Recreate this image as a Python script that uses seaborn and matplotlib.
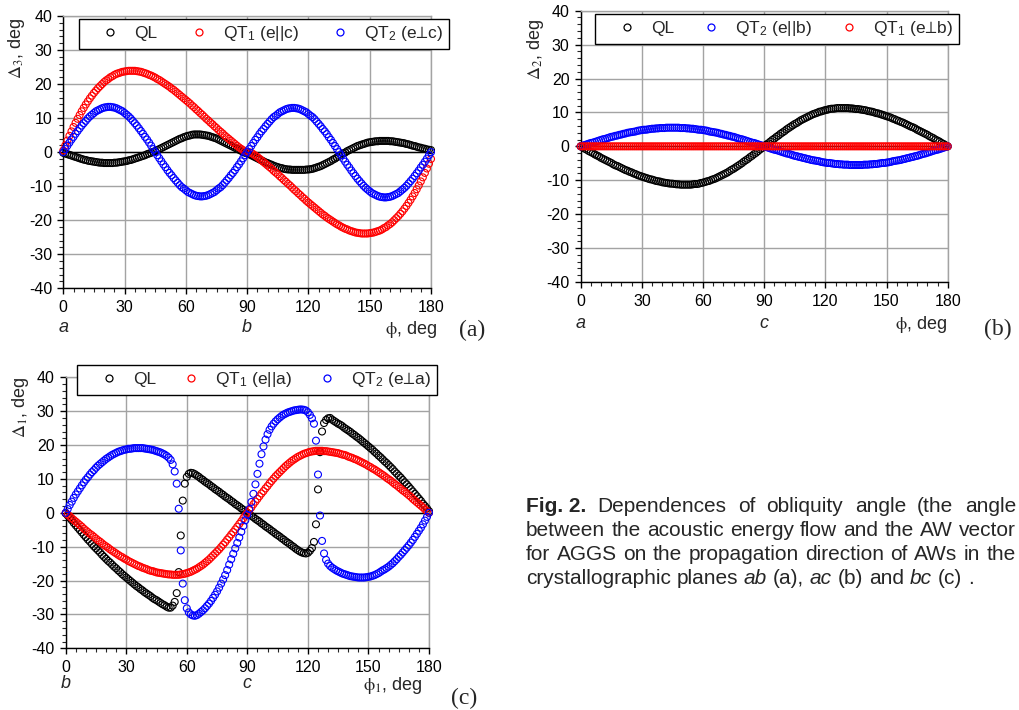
import matplotlib
matplotlib.use("Agg")
import matplotlib.pyplot as plt
import matplotlib.transforms as mtransforms
from matplotlib.lines import Line2D
from matplotlib.ticker import MultipleLocator
import pandas as pd
import seaborn as sns

# propagation angle, deg (1 degree step)
phi = list(range(0, 181))

# (a) plane ab: obliquity angle Delta_3, deg
ab_ql = [
    -0.2, -0.4, -0.6, -0.8, -1.0, -1.2, -1.4, -1.6, -1.8, -2.0,
    -2.2, -2.3, -2.5, -2.6, -2.7, -2.8, -2.9, -3.0, -3.1, -3.1,
    -3.2, -3.2, -3.2, -3.2, -3.2, -3.1, -3.1, -3.0, -2.9, -2.8,
    -2.7, -2.6, -2.4, -2.3, -2.1, -1.9, -1.7, -1.5, -1.3, -1.1,
    -0.9, -0.6, -0.4, -0.2, 0.1, 0.3, 0.6, 0.9, 1.2, 1.5,
    1.8, 2.1, 2.4, 2.7, 3.0, 3.3, 3.6, 3.9, 4.1, 4.4,
    4.6, 4.8, 4.9, 5.1, 5.2, 5.2, 5.2, 5.2, 5.1, 5.0,
    4.9, 4.8, 4.6, 4.4, 4.2, 4.0, 3.7, 3.4, 3.1, 2.8,
    2.5, 2.2, 1.9, 1.6, 1.3, 1.0, 0.7, 0.4, 0.1, -0.2,
    -0.3, -0.6, -0.9, -1.2, -1.5, -1.8, -2.1, -2.4, -2.7, -3.0,
    -3.2, -3.5, -3.7, -4.0, -4.2, -4.4, -4.6, -4.7, -4.9, -5.0,
    -5.1, -5.1, -5.2, -5.2, -5.2, -5.2, -5.2, -5.2, -5.2, -5.1,
    -5.1, -5.0, -4.9, -4.7, -4.5, -4.3, -4.1, -3.8, -3.5, -3.2,
    -2.9, -2.6, -2.2, -1.9, -1.5, -1.1, -0.8, -0.4, -0.1, 0.3,
    0.6, 0.9, 1.2, 1.5, 1.8, 2.0, 2.2, 2.4, 2.6, 2.8,
    2.9, 3.0, 3.1, 3.2, 3.2, 3.3, 3.3, 3.3, 3.3, 3.3,
    3.2, 3.2, 3.1, 3.0, 2.9, 2.8, 2.7, 2.6, 2.4, 2.3,
    2.1, 1.9, 1.8, 1.6, 1.4, 1.3, 1.1, 1.0, 0.8, 0.7,
    0.6]
ab_qt1 = [
    0.5, 2.0, 3.4, 4.8, 6.1, 7.4, 8.6, 9.8, 10.9, 12.0,
    13.0, 14.0, 14.9, 15.8, 16.6, 17.4, 18.1, 18.8, 19.4, 20.0,
    20.6, 21.1, 21.5, 22.0, 22.3, 22.7, 23.0, 23.2, 23.4, 23.6,
    23.7, 23.8, 23.9, 23.9, 23.9, 23.9, 23.8, 23.7, 23.6, 23.4,
    23.2, 23.0, 22.7, 22.5, 22.2, 21.9, 21.5, 21.2, 20.8, 20.4,
    20.0, 19.6, 19.2, 18.7, 18.3, 17.8, 17.3, 16.8, 16.3, 15.8,
    15.3, 14.8, 14.3, 13.7, 13.2, 12.6, 12.1, 11.5, 11.0, 10.4,
    9.8, 9.3, 8.7, 8.2, 7.6, 7.1, 6.5, 6.0, 5.5, 4.9,
    4.4, 3.9, 3.4, 2.9, 2.4, 1.9, 1.4, 1.0, 0.6, 0.2,
    0.0, 0.0, -0.2, -0.6, -1.0, -1.4, -1.9, -2.4, -2.9, -3.4,
    -3.9, -4.4, -4.9, -5.5, -6.0, -6.5, -7.1, -7.6, -8.2, -8.7,
    -9.3, -9.8, -10.4, -11.0, -11.5, -12.1, -12.6, -13.2, -13.7, -14.3,
    -14.8, -15.3, -15.8, -16.3, -16.8, -17.3, -17.8, -18.3, -18.7, -19.2,
    -19.6, -20.0, -20.4, -20.8, -21.2, -21.5, -21.9, -22.2, -22.5, -22.7,
    -23.0, -23.2, -23.4, -23.6, -23.7, -23.8, -23.9, -23.9, -23.9, -23.9,
    -23.8, -23.7, -23.6, -23.4, -23.2, -23.0, -22.7, -22.3, -22.0, -21.5,
    -21.1, -20.6, -20.0, -19.4, -18.8, -18.1, -17.4, -16.6, -15.8, -14.9,
    -14.0, -13.0, -12.0, -10.9, -9.8, -8.6, -7.4, -6.1, -4.8, -3.4,
    -2.0]
ab_qt2 = [
    0.0, 0.9, 1.9, 2.8, 3.7, 4.5, 5.4, 6.2, 7.0, 7.8,
    8.5, 9.2, 9.9, 10.5, 11.0, 11.5, 12.0, 12.3, 12.6, 12.9,
    13.1, 13.2, 13.3, 13.3, 13.2, 13.1, 12.9, 12.6, 12.3, 12.0,
    11.5, 11.0, 10.5, 9.9, 9.2, 8.5, 7.8, 7.0, 6.2, 5.4,
    4.5, 3.7, 2.8, 1.9, 0.9, 0.0, -0.9, -1.8, -2.7, -3.6,
    -4.4, -5.3, -6.1, -6.8, -7.6, -8.3, -9.0, -9.7, -10.3, -10.7,
    -11.2, -11.7, -12.0, -12.3, -12.6, -12.8, -12.9, -13.0, -13.0, -12.9,
    -12.8, -12.6, -12.3, -12.0, -11.7, -11.2, -10.7, -10.3, -9.7, -9.0,
    -8.3, -7.6, -6.8, -6.1, -5.3, -4.4, -3.6, -2.7, -1.8, -0.9,
    0.0, 0.9, 1.8, 2.7, 3.6, 4.4, 5.3, 6.1, 6.8, 7.6,
    8.3, 9.0, 9.7, 10.3, 10.7, 11.2, 11.7, 12.0, 12.3, 12.6,
    12.8, 12.9, 13.0, 13.0, 12.9, 12.8, 12.6, 12.3, 12.0, 11.7,
    11.2, 10.7, 10.3, 9.7, 9.0, 8.3, 7.6, 6.8, 6.1, 5.3,
    4.4, 3.6, 2.7, 1.8, 0.9, 0.0, -0.9, -1.9, -2.8, -3.7,
    -4.5, -5.4, -6.2, -7.0, -7.8, -8.5, -9.2, -9.9, -10.5, -11.0,
    -11.5, -12.0, -12.3, -12.6, -12.9, -13.1, -13.2, -13.3, -13.3, -13.2,
    -13.1, -12.9, -12.6, -12.3, -12.0, -11.5, -11.0, -10.5, -9.9, -9.2,
    -8.5, -7.8, -7.0, -6.2, -5.4, -4.5, -3.7, -2.8, -1.9, -0.9,
    0.0]

# (b) plane ac: obliquity angle Delta_2, deg
ac_ql = [
    0.0, -0.3, -0.7, -1.0, -1.4, -1.7, -2.0, -2.4, -2.7, -3.0,
    -3.4, -3.7, -4.0, -4.3, -4.6, -4.9, -5.3, -5.6, -5.8, -6.1,
    -6.4, -6.7, -7.0, -7.2, -7.5, -7.7, -8.0, -8.2, -8.5, -8.7,
    -8.9, -9.1, -9.3, -9.5, -9.7, -9.8, -10.0, -10.2, -10.3, -10.4,
    -10.6, -10.7, -10.8, -10.9, -11.0, -11.0, -11.1, -11.2, -11.2, -11.3,
    -11.3, -11.3, -11.3, -11.3, -11.3, -11.2, -11.1, -11.1, -11.0, -10.8,
    -10.7, -10.5, -10.3, -10.2, -9.9, -9.7, -9.5, -9.2, -8.9, -8.6,
    -8.3, -8.0, -7.7, -7.3, -6.9, -6.6, -6.2, -5.8, -5.4, -5.0,
    -4.5, -4.1, -3.7, -3.2, -2.8, -2.3, -1.9, -1.4, -0.9, -0.5,
    0.0, 0.5, 0.9, 1.4, 1.9, 2.3, 2.8, 3.2, 3.7, 4.1,
    4.5, 5.0, 5.4, 5.8, 6.2, 6.6, 6.9, 7.3, 7.7, 8.0,
    8.3, 8.6, 8.9, 9.2, 9.5, 9.7, 9.9, 10.2, 10.3, 10.5,
    10.7, 10.8, 11.0, 11.1, 11.1, 11.2, 11.3, 11.3, 11.3, 11.3,
    11.3, 11.3, 11.2, 11.2, 11.1, 11.0, 11.0, 10.9, 10.8, 10.7,
    10.6, 10.4, 10.3, 10.2, 10.0, 9.8, 9.7, 9.5, 9.3, 9.1,
    8.9, 8.7, 8.5, 8.2, 8.0, 7.7, 7.5, 7.2, 7.0, 6.7,
    6.4, 6.1, 5.8, 5.6, 5.3, 4.9, 4.6, 4.3, 4.0, 3.7,
    3.4, 3.0, 2.7, 2.4, 2.0, 1.7, 1.4, 1.0, 0.7, 0.3,
    0.0]
ac_qt2 = [
    0.0, 0.2, 0.4, 0.6, 0.8, 1.0, 1.1, 1.3, 1.5, 1.7,
    1.9, 2.1, 2.2, 2.4, 2.6, 2.8, 2.9, 3.1, 3.2, 3.4,
    3.5, 3.7, 3.8, 4.0, 4.1, 4.2, 4.3, 4.4, 4.6, 4.7,
    4.8, 4.9, 4.9, 5.0, 5.1, 5.2, 5.2, 5.3, 5.3, 5.4,
    5.4, 5.4, 5.5, 5.5, 5.5, 5.5, 5.5, 5.5, 5.5, 5.4,
    5.4, 5.4, 5.3, 5.3, 5.2, 5.2, 5.1, 5.0, 4.9, 4.9,
    4.8, 4.7, 4.6, 4.4, 4.3, 4.2, 4.1, 4.0, 3.8, 3.7,
    3.5, 3.4, 3.2, 3.1, 2.9, 2.8, 2.6, 2.4, 2.2, 2.1,
    1.9, 1.7, 1.5, 1.3, 1.1, 1.0, 0.8, 0.6, 0.4, 0.2,
    0.0, -0.2, -0.4, -0.6, -0.8, -1.0, -1.1, -1.3, -1.5, -1.7,
    -1.9, -2.1, -2.2, -2.4, -2.6, -2.8, -2.9, -3.1, -3.2, -3.4,
    -3.5, -3.7, -3.8, -4.0, -4.1, -4.2, -4.3, -4.4, -4.6, -4.7,
    -4.8, -4.9, -4.9, -5.0, -5.1, -5.2, -5.2, -5.3, -5.3, -5.4,
    -5.4, -5.4, -5.5, -5.5, -5.5, -5.5, -5.5, -5.5, -5.5, -5.4,
    -5.4, -5.4, -5.3, -5.3, -5.2, -5.2, -5.1, -5.0, -4.9, -4.9,
    -4.8, -4.7, -4.6, -4.4, -4.3, -4.2, -4.1, -4.0, -3.8, -3.7,
    -3.5, -3.4, -3.2, -3.1, -2.9, -2.8, -2.6, -2.4, -2.2, -2.1,
    -1.9, -1.7, -1.5, -1.3, -1.1, -1.0, -0.8, -0.6, -0.4, -0.2,
    0.0]
ac_qt1 = [0.0] * 181

# (c) plane bc: obliquity angle Delta_1, deg
bc_ql = [
    -0.2, -0.8, -1.5, -2.2, -3.0, -3.7, -4.4, -5.1, -5.8, -6.5,
    -7.2, -7.9, -8.5, -9.2, -9.9, -10.5, -11.1, -11.7, -12.4, -13.0,
    -13.6, -14.2, -14.7, -15.3, -15.9, -16.4, -17.0, -17.5, -18.1, -18.6,
    -19.1, -19.6, -20.1, -20.6, -21.1, -21.6, -22.0, -22.5, -22.9, -23.4,
    -23.8, -24.2, -24.6, -25.1, -25.5, -25.8, -26.2, -26.6, -27.0, -27.3,
    -27.7, -28.0, -28.0, -27.4, -26.3, -23.7, -17.5, -6.7, 3.6, 8.6,
    10.6, 11.5, 11.8, 11.7, 11.4, 11.0, 10.6, 10.1, 9.7, 9.2,
    8.8, 8.4, 7.9, 7.5, 7.0, 6.6, 6.2, 5.7, 5.3, 4.8,
    4.4, 4.0, 3.5, 3.1, 2.6, 2.2, 1.8, 1.3, 0.9, 0.4,
    0.0, -0.4, -0.9, -1.3, -1.8, -2.2, -2.6, -3.1, -3.5, -4.0,
    -4.4, -4.8, -5.3, -5.7, -6.2, -6.6, -7.0, -7.5, -7.9, -8.4,
    -8.8, -9.2, -9.7, -10.1, -10.6, -11.0, -11.4, -11.7, -11.9, -12.0,
    -11.8, -11.2, -10.4, -8.6, -3.4, 6.9, 17.9, 24.0, 26.5, 27.4,
    27.9, 28.0, 27.5, 27.1, 26.7, 26.3, 26.0, 25.6, 25.1, 24.7,
    24.3, 23.9, 23.4, 23.0, 22.5, 22.1, 21.6, 21.1, 20.6, 20.1,
    19.6, 19.1, 18.6, 18.0, 17.5, 16.9, 16.4, 15.8, 15.2, 14.7,
    14.1, 13.5, 12.9, 12.2, 11.6, 11.0, 10.4, 9.7, 9.0, 8.4,
    7.7, 7.0, 6.3, 5.6, 4.9, 4.2, 3.5, 2.7, 2.0, 1.3,
    0.5]
bc_qt1 = [
    0.0, -0.5, -1.0, -1.6, -2.1, -2.6, -3.1, -3.6, -4.1, -4.7,
    -5.2, -5.7, -6.2, -6.6, -7.1, -7.6, -8.1, -8.5, -9.0, -9.5,
    -9.9, -10.3, -10.8, -11.2, -11.6, -12.0, -12.4, -12.8, -13.1, -13.5,
    -13.8, -14.2, -14.5, -14.8, -15.1, -15.4, -15.7, -15.9, -16.2, -16.4,
    -16.6, -16.9, -17.1, -17.2, -17.4, -17.6, -17.7, -17.8, -17.9, -18.0,
    -18.1, -18.2, -18.2, -18.3, -18.3, -18.3, -18.3, -18.2, -18.1, -18.0,
    -17.8, -17.6, -17.4, -17.1, -16.8, -16.5, -16.1, -15.7, -15.3, -14.8,
    -14.3, -13.8, -13.2, -12.6, -12.0, -11.4, -10.8, -10.1, -9.4, -8.7,
    -7.9, -7.2, -6.4, -5.7, -4.9, -4.1, -3.3, -2.5, -1.6, -0.8,
    0.0, 0.8, 1.6, 2.5, 3.3, 4.1, 4.9, 5.7, 6.4, 7.2,
    7.9, 8.7, 9.4, 10.1, 10.8, 11.4, 12.0, 12.6, 13.2, 13.8,
    14.3, 14.8, 15.3, 15.7, 16.1, 16.5, 16.8, 17.1, 17.4, 17.6,
    17.8, 18.0, 18.1, 18.2, 18.3, 18.3, 18.3, 18.3, 18.2, 18.2,
    18.1, 18.0, 17.9, 17.8, 17.7, 17.6, 17.4, 17.2, 17.1, 16.9,
    16.6, 16.4, 16.2, 15.9, 15.7, 15.4, 15.1, 14.8, 14.5, 14.2,
    13.8, 13.5, 13.1, 12.8, 12.4, 12.0, 11.6, 11.2, 10.8, 10.3,
    9.9, 9.5, 9.0, 8.5, 8.1, 7.6, 7.1, 6.6, 6.2, 5.7,
    5.2, 4.7, 4.1, 3.6, 3.1, 2.6, 2.1, 1.6, 1.0, 0.5,
    0.0]
bc_qt2 = [
    0.0, 1.1, 2.3, 3.3, 4.4, 5.4, 6.3, 7.2, 8.1, 9.0,
    9.8, 10.5, 11.3, 12.0, 12.6, 13.3, 13.9, 14.4, 14.9, 15.4,
    15.9, 16.3, 16.7, 17.1, 17.4, 17.7, 18.0, 18.2, 18.4, 18.6,
    18.7, 18.9, 18.9, 19.0, 19.1, 19.1, 19.1, 19.1, 19.1, 19.0,
    18.9, 18.8, 18.7, 18.6, 18.4, 18.2, 18.0, 17.8, 17.5, 17.2,
    16.8, 16.3, 15.6, 14.3, 12.2, 8.6, 1.2, -11.1, -20.9, -25.8,
    -28.2, -29.4, -30.0, -30.3, -30.4, -30.2, -29.8, -29.3, -28.8, -28.2,
    -27.5, -26.8, -26.0, -25.1, -24.2, -23.2, -22.1, -20.9, -19.7, -18.4,
    -16.9, -15.3, -13.7, -12.1, -10.5, -8.9, -7.3, -5.6, -3.9, -2.2,
    -0.6, 1.1, 3.2, 5.6, 8.4, 11.5, 14.5, 17.3, 19.6, 21.6,
    23.2, 24.5, 25.5, 26.3, 27.0, 27.6, 28.1, 28.6, 29.0, 29.3,
    29.6, 29.8, 30.0, 30.2, 30.3, 30.4, 30.5, 30.5, 30.4, 30.2,
    29.7, 28.9, 27.9, 26.3, 21.3, 11.3, -0.8, -8.3, -12.0, -13.9,
    -15.0, -15.7, -16.2, -16.6, -17.0, -17.3, -17.6, -17.9, -18.1, -18.3,
    -18.5, -18.7, -18.8, -18.9, -19.0, -19.1, -19.1, -19.1, -19.1, -19.0,
    -18.9, -18.8, -18.6, -18.4, -18.1, -17.8, -17.4, -17.0, -16.7, -16.3,
    -15.9, -15.4, -14.9, -14.3, -13.7, -13.0, -12.4, -11.7, -11.0, -10.3,
    -9.6, -8.8, -8.0, -7.1, -6.2, -5.3, -4.4, -3.4, -2.3, -1.2,
    0.0]

BLACK, RED, BLUE = "#000000", "#ff0000", "#0000ff"

sns.set_style("ticks")
plt.rcParams["font.family"] = ["Liberation Sans", "DejaVu Sans"]
plt.rcParams["mathtext.fontset"] = "custom"
plt.rcParams["mathtext.rm"] = "Liberation Sans"
plt.rcParams["mathtext.it"] = "Liberation Sans:italic"
plt.rcParams["mathtext.bf"] = "Liberation Sans:bold"
plt.rcParams["mathtext.fallback"] = "stix"
plt.rcParams["axes.unicode_minus"] = False

W, H = 1019, 710
fig = plt.figure(figsize=(W / 100, H / 100), dpi=100)
fig.patch.set_facecolor("white")
PIX = mtransforms.IdentityTransform()


def rect(left, top, right, bottom):
    return [left / W, 1 - bottom / H, (right - left) / W, (bottom - top) / H]


def ftext(x, y, s, **kw):
    """Text placed in pixel coordinates measured from the top-left corner."""
    return fig.text(x, H - y, s, transform=PIX, **kw)


def draw_panel(ax, series, legend_box):
    for name, vals, color in series:
        df = pd.DataFrame({"phi": phi[:len(vals)], "delta": vals})
        sns.scatterplot(data=df, x="phi", y="delta", ax=ax, marker="o", s=25,
                        facecolors="none", edgecolor=color, linewidth=0.8,
                        clip_on=False, zorder=3, legend=False)
    ax.set_xlabel("")
    ax.set_ylabel("")
    ax.set_xlim(0, 180)
    ax.set_ylim(-40, 40)
    ax.xaxis.set_major_locator(MultipleLocator(30))
    ax.xaxis.set_minor_locator(MultipleLocator(5))
    ax.yaxis.set_major_locator(MultipleLocator(10))
    ax.yaxis.set_minor_locator(MultipleLocator(2))
    ax.tick_params(which="major", direction="out", length=4, width=1.0,
                   labelsize=11.5, colors="black")
    ax.tick_params(axis="x", which="major", pad=4.5)
    ax.tick_params(axis="y", which="major", pad=4)
    ax.tick_params(which="minor", direction="out", length=2.8, width=0.8)
    ax.set_axisbelow(True)
    ax.grid(True, which="major", color="#a3a3a3", linewidth=1.0)
    ax.axhline(0, color="black", linewidth=1.0, zorder=2)
    for side in ("left", "bottom"):
        ax.spines[side].set_color("black")
        ax.spines[side].set_linewidth(1.0)
    for side in ("top", "right"):
        ax.spines[side].set_color("#a3a3a3")
        ax.spines[side].set_linewidth(1.0)

    handles = [Line2D([], [], linestyle="none", marker="o", markersize=5,
                      markerfacecolor="none", markeredgecolor=c,
                      markeredgewidth=0.9) for _, _, c in series]
    labels = [name for name, _, _ in series]
    l, t, r, b = legend_box
    leg = ax.legend(handles, labels, loc="center",
                    bbox_to_anchor=(l / W, 1 - b / H, (r - l) / W, (b - t) / H),
                    bbox_transform=fig.transFigure, mode="expand", ncol=3,
                    fontsize=12.5, frameon=True, fancybox=False, framealpha=1,
                    edgecolor="black", borderpad=0.32, handlelength=3.0,
                    handletextpad=-0.1, borderaxespad=0, columnspacing=0.5)
    leg.get_frame().set_linewidth(1.0)
    leg.set_zorder(6)


ax_a = fig.add_axes(rect(63.3, 16, 431, 288.3))
ax_b = fig.add_axes(rect(580.7, 10.7, 947.7, 282))
ax_c = fig.add_axes(rect(65.7, 377.3, 429, 648.3))

draw_panel(ax_a, [("QL", ab_ql, BLACK),
                  (r"QT$_1$ (e||c)", ab_qt1, RED),
                  ("QT$_2$ (e$\u22a5$c)", ab_qt2, BLUE)],
           (78.7, 18.3, 449, 49.3))
draw_panel(ax_b, [("QL", ac_ql, BLACK),
                  (r"QT$_2$ (e||b)", ac_qt2, BLUE),
                  ("QT$_1$ (e$\u22a5$b)", ac_qt1, RED)],
           (595.3, 13.3, 959, 44))
draw_panel(ax_c, [("QL", bc_ql, BLACK),
                  (r"QT$_1$ (e||a)", bc_qt1, RED),
                  ("QT$_2$ (e$\u22a5$a)", bc_qt2, BLUE)],
           (77.3, 364.3, 437, 395))

# axis titles
ylab_kw = dict(rotation=90, ha="center", va="center", fontsize=13, math_fontfamily="stix")
ftext(16.5, 48.5, r"$\Delta_3$, deg", **ylab_kw)
ftext(535, 49, r"$\Delta_2$, deg", **ylab_kw)
ftext(20.5, 407.5, r"$\Delta_1$, deg", **ylab_kw)

lab_kw = dict(fontsize=13, va="baseline")
tag_kw = dict(fontsize=17, va="baseline", ha="center", family="Liberation Serif")

# crystal axes at the ends of each angular range, angle titles and panel tags
ftext(63.3, 332.5, "a", ha="center", style="italic", **lab_kw)
ftext(247.2, 332.5, "b", ha="center", style="italic", **lab_kw)
ftext(436.7, 333.5, r"$\mathrm{\phi}$, deg", ha="right", math_fontfamily="stix", **lab_kw)
ftext(472, 336, "(a)", **tag_kw)

ftext(580.7, 328, "a", ha="center", style="italic", **lab_kw)
ftext(764, 328, "c", ha="center", style="italic", **lab_kw)
ftext(946.7, 329, r"$\mathrm{\phi}$, deg", ha="right", math_fontfamily="stix", **lab_kw)
ftext(997.5, 335, "(b)", **tag_kw)

ftext(65.7, 688, "b", ha="center", style="italic", **lab_kw)
ftext(247.4, 688, "c", ha="center", style="italic", **lab_kw)
ftext(422.7, 690, r"$\mathrm{\phi}_1$, deg", ha="right", math_fontfamily="stix", **lab_kw)
ftext(464, 704, "(c)", **tag_kw)

# figure caption, justified text block
caption = [
    [("Fig. 2.", {"weight": "bold"}), ("Dependences", {}), ("of", {}),
     ("obliquity", {}), ("angle", {}), ("(the", {}), ("angle", {})],
    [("between", {}), ("the", {}), ("acoustic", {}), ("energy", {}), ("flow", {}),
     ("and", {}), ("the", {}), ("AW", {}), ("vector", {})],
    [("for", {}), ("AGGS", {}), ("on", {}), ("the", {}), ("propagation", {}),
     ("direction", {}), ("of", {}), ("AWs", {}), ("in", {}), ("the", {})],
    [("crystallographic", {}), ("planes", {}), ("ab", {"style": "italic"}),
     ("(a),", {}), ("ac", {"style": "italic"}), ("(b)", {}), ("and", {}),
     ("bc", {"style": "italic"}), ("(c)", {}), (".", {})],
]
baselines = [511.5, 535.5, 559.5, 583.5]
cap_left, cap_right, cap_size = 526, 1016, 15
renderer = fig.canvas.get_renderer()
space = 0.278 * cap_size * 100 / 72
for i, (words, yb) in enumerate(zip(caption, baselines)):
    texts = [ftext(0, yb, w, fontsize=cap_size, va="baseline", ha="left", **kw)
             for w, kw in words]
    widths = [t.get_window_extent(renderer).width for t in texts]
    if i < len(caption) - 1:
        gap = (cap_right - cap_left - sum(widths)) / (len(texts) - 1)
    else:
        gap = space
    x = cap_left
    for t, w in zip(texts, widths):
        t.set_position((x, H - yb))
        x += w + gap

fig.savefig("out.png", dpi=100, facecolor="white")
